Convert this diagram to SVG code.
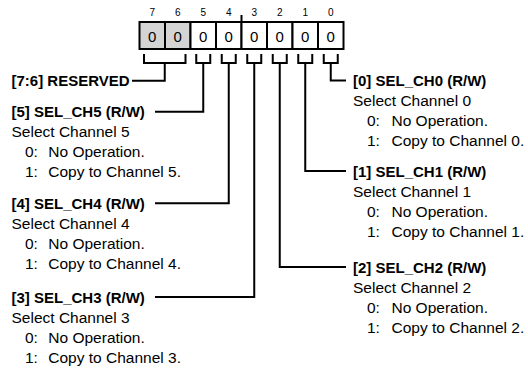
<svg xmlns="http://www.w3.org/2000/svg" width="528" height="370" viewBox="0 0 528 370">
<style>
text{font-family:"Liberation Sans",Arial,sans-serif;fill:#000}
.t{font-size:15px;font-weight:bold}
.d{font-size:15.5px}
.bl{font-size:10px;text-anchor:middle}
.bv{font-size:15px;text-anchor:middle}
.box{fill:#fff;stroke:#000;stroke-width:2}
.res{fill:#d4d4d4}
.ln{fill:none;stroke:#000;stroke-width:2}
</style>
<rect width="528" height="370" fill="#fff"/>
<g id="register">
<rect class="box res" x="139.5" y="22" width="25.5" height="27"/>
<rect class="box res" x="165" y="22" width="25.5" height="27"/>
<rect class="box" x="190.5" y="22" width="25.5" height="27"/>
<rect class="box" x="216" y="22" width="25.5" height="27"/>
<rect class="box" x="241.5" y="22" width="25.5" height="27"/>
<rect class="box" x="267" y="22" width="25.5" height="27"/>
<rect class="box" x="292.5" y="22" width="25.5" height="27"/>
<rect class="box" x="318" y="22" width="25.5" height="27"/>
<line class="ln" x1="241.5" y1="15" x2="241.5" y2="22"/>
<text class="bl" x="152.25" y="16">7</text>
<text class="bl" x="177.75" y="16">6</text>
<text class="bl" x="203.25" y="16">5</text>
<text class="bl" x="228.75" y="16">4</text>
<text class="bl" x="254.25" y="16">3</text>
<text class="bl" x="279.75" y="16">2</text>
<text class="bl" x="305.25" y="16">1</text>
<text class="bl" x="330.75" y="16">0</text>
<text class="bv" x="152.25" y="42">0</text>
<text class="bv" x="177.75" y="42">0</text>
<text class="bv" x="203.25" y="42">0</text>
<text class="bv" x="228.75" y="42">0</text>
<text class="bv" x="254.25" y="42">0</text>
<text class="bv" x="279.75" y="42">0</text>
<text class="bv" x="305.25" y="42">0</text>
<text class="bv" x="330.75" y="42">0</text>
</g>
<g id="connectors">
<path class="ln" d="M144,54V63H185.5V54M164.75,63V80.7H132"/>
<path class="ln" d="M196.25,54V63H210.25V54M203.25,63V111.7H155"/>
<path class="ln" d="M221.75,54V63H235.75V54M228.75,63V203.3H155"/>
<path class="ln" d="M247.25,54V63H261.25V54M254.25,63V297H155"/>
<path class="ln" d="M272.75,54V63H286.75V54M279.75,63V267H346"/>
<path class="ln" d="M298.25,54V63H312.25V54M305.25,63V171H346"/>
<path class="ln" d="M323.75,54V63H337.75V54M330.75,63V80.5H346"/>
</g>
<g id="f76"><text class="t" x="11.5" y="86">[7:6] RESERVED</text></g>
<g id="f5">
<text class="t" x="11.5" y="117">[5] SEL_CH5 (R/W)</text>
<text class="d" x="11.5" y="137">Select Channel 5</text>
<text class="d" y="157"><tspan x="25">0:</tspan><tspan x="48.3">No Operation.</tspan></text>
<text class="d" y="177"><tspan x="25">1:</tspan><tspan x="48.3">Copy to Channel 5.</tspan></text>
</g>
<g id="f4">
<text class="t" x="11.5" y="208.5">[4] SEL_CH4 (R/W)</text>
<text class="d" x="11.5" y="228.5">Select Channel 4</text>
<text class="d" y="248.5"><tspan x="25">0:</tspan><tspan x="48.3">No Operation.</tspan></text>
<text class="d" y="268.5"><tspan x="25">1:</tspan><tspan x="48.3">Copy to Channel 4.</tspan></text>
</g>
<g id="f3">
<text class="t" x="11.5" y="302.5">[3] SEL_CH3 (R/W)</text>
<text class="d" x="11.5" y="322.5">Select Channel 3</text>
<text class="d" y="342.5"><tspan x="25">0:</tspan><tspan x="48.3">No Operation.</tspan></text>
<text class="d" y="362.5"><tspan x="25">1:</tspan><tspan x="48.3">Copy to Channel 3.</tspan></text>
</g>
<g id="f0">
<text class="t" x="353" y="86">[0] SEL_CH0 (R/W)</text>
<text class="d" x="353" y="106">Select Channel 0</text>
<text class="d" y="126"><tspan x="367">0:</tspan><tspan x="391.5">No Operation.</tspan></text>
<text class="d" y="146"><tspan x="367">1:</tspan><tspan x="391.5">Copy to Channel 0.</tspan></text>
</g>
<g id="f1">
<text class="t" x="353" y="176.5">[1] SEL_CH1 (R/W)</text>
<text class="d" x="353" y="196.5">Select Channel 1</text>
<text class="d" y="216.5"><tspan x="367">0:</tspan><tspan x="391.5">No Operation.</tspan></text>
<text class="d" y="236.5"><tspan x="367">1:</tspan><tspan x="391.5">Copy to Channel 1.</tspan></text>
</g>
<g id="f2">
<text class="t" x="353" y="272.5">[2] SEL_CH2 (R/W)</text>
<text class="d" x="353" y="292.5">Select Channel 2</text>
<text class="d" y="312.5"><tspan x="367">0:</tspan><tspan x="391.5">No Operation.</tspan></text>
<text class="d" y="332.5"><tspan x="367">1:</tspan><tspan x="391.5">Copy to Channel 2.</tspan></text>
</g>
</svg>
